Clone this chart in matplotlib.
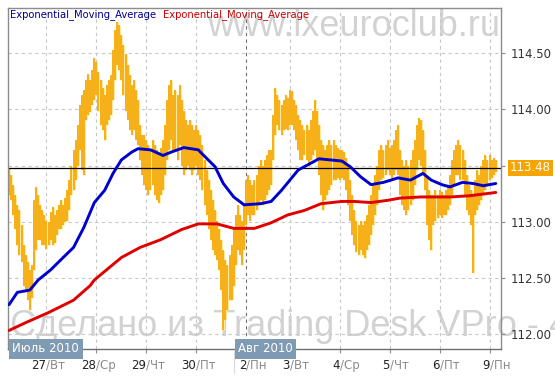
import numpy as np
import matplotlib.pyplot as plt
from matplotlib import transforms

# hourly bars (high / low)
highs = [
    113.48, 113.42, 113.33, 113.24, 113.15, 113.10, 112.97, 112.79, 112.70, 112.64,
    112.57, 112.61, 113.19, 113.31, 113.24, 113.15, 113.10, 113.06, 113.01, 113.00,
    113.09, 113.13, 113.06, 113.10, 113.15, 113.19, 113.15, 113.21, 113.28, 113.37,
    113.50, 113.64, 113.73, 113.86, 114.04, 114.13, 114.17, 114.26, 114.32, 114.26,
    114.35, 114.46, 114.42, 114.33, 114.26, 114.19, 114.13, 114.22, 114.26, 114.31,
    114.53, 114.71, 114.78, 114.75, 114.66, 114.57, 114.49, 114.40, 114.31, 114.22,
    114.26, 114.17, 114.08, 113.86, 113.77, 113.77, 113.73, 113.68, 113.64, 113.73,
    113.68, 113.64, 113.59, 113.66, 113.73, 113.86, 114.08, 114.22, 114.26, 114.13,
    114.17, 114.13, 114.22, 114.08, 113.99, 113.91, 113.86, 113.91, 113.86, 113.82,
    113.86, 113.82, 113.77, 113.68, 113.55, 113.46, 113.37, 113.28, 113.19, 113.10,
    113.01, 112.93, 112.84, 112.75, 112.66, 112.61, 112.70, 112.79, 112.93, 113.06,
    113.15, 113.06, 113.01, 113.15, 113.37, 113.42, 113.37, 113.33, 113.37, 113.42,
    113.50, 113.55, 113.50, 113.55, 113.59, 113.64, 113.64, 113.95, 114.19, 114.13,
    114.08, 114.04, 114.08, 114.13, 114.10, 114.17, 114.16, 114.08, 114.04, 113.95,
    113.91, 113.86, 113.82, 113.86, 113.82, 113.91, 113.99, 114.08, 113.99, 113.86,
    113.73, 113.68, 113.64, 113.68, 113.73, 113.68, 113.73, 113.68, 113.66, 113.64,
    113.64, 113.62, 113.57, 113.50, 113.37, 113.24, 113.10, 113.01, 112.97, 113.01,
    112.97, 113.01, 113.06, 113.15, 113.24, 113.33, 113.42, 113.50, 113.64, 113.68,
    113.64, 113.68, 113.73, 113.66, 113.68, 113.73, 113.82, 113.86, 113.64, 113.55,
    113.50, 113.55, 113.50, 113.55, 113.64, 113.73, 113.86, 113.92, 113.91, 113.82,
    113.64, 113.42, 113.28, 113.24, 113.24, 113.28, 113.24, 113.28, 113.26, 113.24,
    113.28, 113.33, 113.42, 113.55, 113.64, 113.68, 113.73, 113.68, 113.64, 113.55,
    113.42, 113.33, 113.28, 113.24, 113.37, 113.46, 113.42, 113.50, 113.55, 113.59,
    113.55, 113.59, 113.55, 113.57, 113.55,
]
lows = [
    113.24, 113.19, 113.06, 112.93, 112.79, 112.70, 112.64, 112.43, 112.37, 112.30,
    112.21, 112.32, 112.57, 112.75, 112.84, 112.84, 112.79, 112.79, 112.76, 112.79,
    112.84, 112.79, 112.81, 112.88, 112.93, 112.93, 112.97, 113.00, 113.01, 113.10,
    113.24, 113.28, 113.37, 113.50, 113.64, 113.46, 113.42, 113.91, 113.95, 113.98,
    114.04, 114.08, 114.13, 113.99, 113.86, 113.82, 113.73, 113.86, 113.91, 113.95,
    114.08, 114.26, 114.40, 114.35, 114.26, 114.13, 113.99, 113.91, 113.82, 113.77,
    113.82, 113.73, 113.68, 113.55, 113.42, 113.33, 113.28, 113.24, 113.28, 113.33,
    113.24, 113.19, 113.17, 113.24, 113.28, 113.42, 113.55, 113.64, 113.73, 113.64,
    113.64, 113.55, 113.68, 113.50, 113.42, 113.46, 113.50, 113.46, 113.42, 113.46,
    113.50, 113.42, 113.37, 113.28, 113.15, 113.06, 112.93, 112.84, 112.75, 112.70,
    112.66, 112.57, 112.39, 112.03, 112.12, 112.21, 112.30, 112.30, 112.43, 112.61,
    112.75, 112.70, 112.61, 112.75, 112.97, 113.06, 113.01, 113.06, 113.06, 113.10,
    113.15, 113.19, 113.15, 113.19, 113.24, 113.28, 113.33, 113.55, 113.77, 113.86,
    113.82, 113.77, 113.82, 113.83, 113.82, 113.86, 113.86, 113.82, 113.73, 113.64,
    113.55, 113.55, 113.59, 113.55, 113.50, 113.55, 113.59, 113.64, 113.55, 113.42,
    113.24, 113.10, 113.19, 113.24, 113.28, 113.33, 113.37, 113.37, 113.39, 113.37,
    113.39, 113.37, 113.28, 113.15, 113.01, 112.88, 112.79, 112.73, 112.70, 112.75,
    112.70, 112.68, 112.75, 112.79, 112.88, 112.97, 113.06, 113.15, 113.28, 113.37,
    113.39, 113.42, 113.46, 113.42, 113.39, 113.42, 113.46, 113.42, 113.24, 113.15,
    113.10, 113.06, 113.10, 113.15, 113.19, 113.33, 113.46, 113.55, 113.50, 113.42,
    113.28, 112.97, 112.84, 112.75, 112.97, 113.01, 113.03, 113.06, 113.03, 113.06,
    113.06, 113.10, 113.15, 113.24, 113.33, 113.42, 113.42, 113.37, 113.37, 113.24,
    113.10, 113.06, 112.97, 112.54, 113.06, 113.10, 113.15, 113.19, 113.24, 113.28,
    113.33, 113.37, 113.39, 113.42, 113.44,
]
last_price = 113.48

# fast EMA (blue) and slow EMA (red), bar index / value
ema_fast_x = [0, 4, 10, 14, 20, 26, 31, 36, 41, 46, 50, 54, 59, 62, 68, 74, 78, 84, 91, 92,
              99, 103, 108, 113, 121, 126, 131, 139, 145, 149, 160, 164, 169, 174, 180, 187,
              193, 199, 203, 208, 212, 218, 223, 228, 234]
ema_fast = [112.26, 112.37, 112.39, 112.48, 112.57, 112.68, 112.77, 112.95, 113.17, 113.28,
            113.43, 113.55, 113.62, 113.65, 113.64, 113.59, 113.62, 113.66, 113.64, 113.62,
            113.49, 113.34, 113.22, 113.15, 113.16, 113.18, 113.28, 113.46, 113.52, 113.56,
            113.54, 113.49, 113.40, 113.33, 113.35, 113.39, 113.37, 113.43, 113.37, 113.33,
            113.31, 113.35, 113.34, 113.32, 113.34]
ema_slow_x = [0, 8, 19, 31, 39, 41, 54, 63, 73, 83, 91, 100, 108, 118, 126, 134, 142, 150,
              160, 166, 174, 182, 188, 198, 212, 221, 234]
ema_slow = [112.03, 112.10, 112.19, 112.30, 112.43, 112.48, 112.68, 112.77, 112.84, 112.93,
            112.98, 112.98, 112.94, 112.94, 112.99, 113.06, 113.10, 113.16, 113.18, 113.18,
            113.17, 113.19, 113.21, 113.22, 113.22, 113.23, 113.26]

day_pos = [18, 42, 66, 90, 114, 135, 159, 183, 207, 231]
day_num = ['27', '28', '29', '30', '2', '3', '4', '5', '6', '9']
day_name = ['Вт', 'Ср', 'Чт', 'Пт', 'Пн', 'Вт', 'Ср', 'Чт', 'Пт', 'Пн']
months = ['Июль 2010', 'Авг 2010']
month_pos = [0, 108.5]
yticks = [112.0, 112.5, 113.0, 113.5, 114.0, 114.5]

W, H = 555, 379
fig = plt.figure(figsize=(W / 100, H / 100), dpi=100)
ax = fig.add_axes([8 / W, 30 / H, 493 / W, 341 / H])
ax.set_xlim(-0.5, 236.5)
ax.set_ylim(111.865, 114.904)

# watermarks behind the data
ax.text(207 / W, 1 - 36 / H, 'www.ixeuroclub.ru', transform=fig.transFigure,
        family='Liberation Sans', fontsize=26, color='#d2d2d2', va='baseline',
        zorder=0.5, clip_on=False)
ax.text(10 / W, 1 - 336 / H, 'Сделано из Trading Desk VPro - 4', transform=fig.transFigure,
        family='Liberation Sans', fontsize=26, color='#d2d2d2', va='baseline',
        zorder=0.5, clip_on=False)

# grid
for v in yticks:
    ax.axhline(v, color='#c8c8c8', lw=0.8, ls=(0, (3, 3)), zorder=1)
for i, p in enumerate(day_pos):
    col = '#707070' if day_num[i] == '2' else '#c8c8c8'
    ax.axvline(p, color=col, lw=0.8, ls=(0, (3, 3)), zorder=1)

x = np.arange(len(highs))
ax.vlines(x, lows, highs, color='#ffeaa0', lw=2.2, zorder=2)
ax.vlines(x, lows, highs, color='#f5a500', lw=1.2, zorder=2.1)
ax.axhline(last_price, color='black', lw=0.9, zorder=2.5)
ax.plot(ema_slow_x, ema_slow, color='#e00000', lw=2.1, zorder=3, solid_capstyle='round')
ax.plot(ema_fast_x, ema_fast, color='#0000cc', lw=2.1, zorder=3.2, solid_capstyle='round')

for s in ax.spines.values():
    s.set_color('#8c8c8c')
    s.set_linewidth(1)
ax.spines['bottom'].set_color('#6e6e6e')

ax.yaxis.tick_right()
ax.set_yticks(yticks)
ax.set_yticklabels(['%.2f' % v for v in yticks])
ax.tick_params(axis='y', length=3, pad=4, color='#8c8c8c', labelsize=8.5, labelcolor='#333333')
ax.set_xticks(day_pos)
ax.set_xticklabels([])
ax.tick_params(axis='x', length=3, color='#8c8c8c')

tr = transforms.blended_transform_factory(ax.transData, ax.transAxes)
for p, n, d in zip(day_pos, day_num, day_name):
    ax.text(p, -0.047, n, transform=tr, ha='right', va='center', fontsize=8.5, color='#222222')
    ax.text(p, -0.047, '/' + d, transform=tr, ha='left', va='center', fontsize=8.5, color='#8a8a8a')

for p, m in zip(month_pos, months):
    ax.text(p + 1.6, 0, m, transform=tr, ha='left', va='center', fontsize=8.5, color='white',
            zorder=6, clip_on=False,
            bbox=dict(boxstyle='square,pad=0.3', fc='#7e9bb3', ec='none'))
ax.plot([108, 108], [-0.005, -0.07], transform=tr, color='#d8d8d8', lw=0.8, clip_on=False)

# last price label
ax.text(1.0 + 9 / 493, last_price, '%.2f' % last_price,
        transform=transforms.blended_transform_factory(ax.transAxes, ax.transData),
        ha='left', va='center', fontsize=8.5, color='white', clip_on=False, zorder=6,
        bbox=dict(boxstyle='square,pad=0.15', fc='#f5a500', ec='none'))

# legend
fig.text(10 / W, 1 - 15 / H, 'Exponential_Moving_Average', color='#00008b', fontsize=7.2, va='center')
fig.text(163 / W, 1 - 15 / H, 'Exponential_Moving_Average', color='#cc0000', fontsize=7.2, va='center')

fig.savefig('out.png', dpi=100)
